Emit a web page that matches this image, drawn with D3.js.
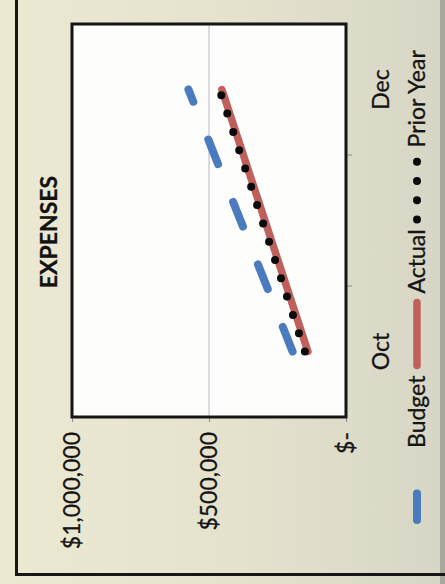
<!DOCTYPE html>
<html><head><meta charset="utf-8">
<script src="https://cdn.jsdelivr.net/npm/d3@7"></script>
<style>html,body{margin:0;padding:0;background:#e3e1cc;} svg{display:block;}</style>
</head><body>
<script>
// ---- data ----
const months = ["Oct", "Nov", "Dec"];
const shownMonthLabels = ["Oct", "Dec"];
const budget = [195000, 385000, 575000];
const actual = [139000, 296000, 453000];
const priorYear = [150000, 306000, 462000];
const valueTicks = [0, 500000, 1000000];
const valueTickLabels = ["$-", "$500,000", "$1,000,000"];
const seriesNames = ["Budget", "Actual", "Prior Year"];
const chartTitle = "EXPENSES";

// ---- setup ----
const W = 445, H = 584;
const FONT = "Lato, Carlito, 'Open Sans', sans-serif";
const svg = d3.select("body").append("svg").attr("width", W).attr("height", H);
const defs = svg.append("defs");
const grad = defs.append("linearGradient").attr("id", "paper").attr("x1", 0).attr("x2", 1).attr("y1", 0).attr("y2", 0);
grad.append("stop").attr("offset", 0).attr("stop-color", "#ece9d3");
grad.append("stop").attr("offset", 0.55).attr("stop-color", "#e4e2cd");
grad.append("stop").attr("offset", 1).attr("stop-color", "#d7d6c6");
svg.append("rect").attr("width", W).attr("height", H).attr("fill", "url(#paper)");
// right shadow strip of photo
svg.append("rect").attr("x", 440).attr("y", 0).attr("width", 5).attr("height", H).attr("fill", "#a9a89c");
// outer chart frame (left + bottom visible)
svg.append("path").attr("d", "M16.5,0 V574.5 H445").attr("fill", "none").attr("stroke", "#161616").attr("stroke-width", 3);

// chart drawn in its original orientation, then rotated -90deg
const g = svg.append("g").attr("transform", `translate(0,${H}) rotate(-90)`);
const plot = { left: 167, right: 560, top: 72, bottom: 346 };
const x = d3.scaleBand().domain(months).range([plot.left, plot.right]);
const y = d3.scaleLinear().domain([0, 1000000]).range([plot.bottom, plot.top]);

g.append("rect").attr("x", plot.left).attr("y", plot.top)
  .attr("width", plot.right - plot.left).attr("height", plot.bottom - plot.top)
  .attr("fill", "#fdfdfb");

// gridlines
g.append("g").selectAll("line").data(valueTicks.filter(v => v > 0 && v < 1000000)).join("line")
  .attr("x1", plot.left).attr("x2", plot.right)
  .attr("y1", d => y(d)).attr("y2", d => y(d))
  .attr("stroke", "#bdb5c4").attr("stroke-width", 1);

// value axis
const yAxis = g.append("g").attr("transform", `translate(${plot.left},0)`)
  .call(d3.axisLeft(y).tickValues(valueTicks).tickSize(5).tickPadding(10)
    .tickFormat((d, i) => valueTickLabels[i]));
yAxis.select(".domain").remove();
yAxis.selectAll(".tick line").attr("stroke", "#8c8c8c");
yAxis.selectAll(".tick text").attr("font-family", FONT).attr("font-size", 23).attr("fill", "#141414")
  .attr("stroke", "#141414").attr("stroke-width", 0.3);

// category axis
const xAxis = g.append("g").attr("transform", `translate(0,${plot.bottom})`)
  .call(d3.axisBottom(x).tickSize(0).tickPadding(0)
    .tickFormat(d => shownMonthLabels.includes(d) ? d : ""));
xAxis.select(".domain").remove();
xAxis.selectAll(".tick text").attr("font-family", FONT).attr("font-size", 23).attr("fill", "#141414")
  .attr("stroke", "#141414").attr("stroke-width", 0.3)
  .attr("y", 27).attr("dy", "0.71em");
g.append("g").selectAll("line").data(months.slice(1)).join("line")
  .attr("x1", d => x(d)).attr("x2", d => x(d))
  .attr("y1", plot.bottom).attr("y2", plot.bottom + 6)
  .attr("stroke", "#8c8c8c").attr("stroke-width", 1);

// plot border
g.append("rect").attr("x", plot.left).attr("y", plot.top)
  .attr("width", plot.right - plot.left).attr("height", plot.bottom - plot.top)
  .attr("fill", "none").attr("stroke", "#151515").attr("stroke-width", 3);

// series
const line = d3.line().x((d, i) => x(months[i]) + x.bandwidth() / 2).y(d => y(d));
const styles = [
  { color: "#4a7bbf", width: 8, dash: "26.5 40.7" },
  { color: "#c0605c", width: 7.5, dash: null },
  { color: "#0a0a0a", width: 8, dash: "0 19.25" }
];
[budget, actual, priorYear].forEach((s, k) => {
  g.append("path").datum(s).attr("d", line)
    .attr("fill", "none").attr("stroke", styles[k].color)
    .attr("stroke-width", styles[k].width)
    .attr("stroke-linecap", "round").attr("stroke-linejoin", "round")
    .attr("stroke-dasharray", styles[k].dash);
});

// title
g.append("text").attr("x", 352).attr("y", 57).attr("text-anchor", "middle")
  .attr("font-family", FONT).attr("font-size", 23).attr("font-weight", "bold")
  .attr("fill", "#121212").attr("stroke", "#121212").attr("stroke-width", 0.3).text(chartTitle);

// legend
const legend = g.append("g");
let cu = 64;
const legY = 425, markY = 417, markLen = 63;
seriesNames.forEach((name, k) => {
  legend.append("line").attr("x1", cu).attr("x2", cu + markLen)
    .attr("y1", markY).attr("y2", markY)
    .attr("stroke", styles[k].color).attr("stroke-width", styles[k].width)
    .attr("stroke-linecap", "round").attr("stroke-dasharray", styles[k].dash);
  const t = legend.append("text").attr("x", cu + markLen + 9).attr("y", legY)
    .attr("font-family", FONT).attr("font-size", 23).attr("fill", "#141414")
    .attr("stroke", "#141414").attr("stroke-width", 0.3).text(name);
  cu += markLen + 9 + t.node().getComputedTextLength() + 10;
});
</script>
</body></html>
